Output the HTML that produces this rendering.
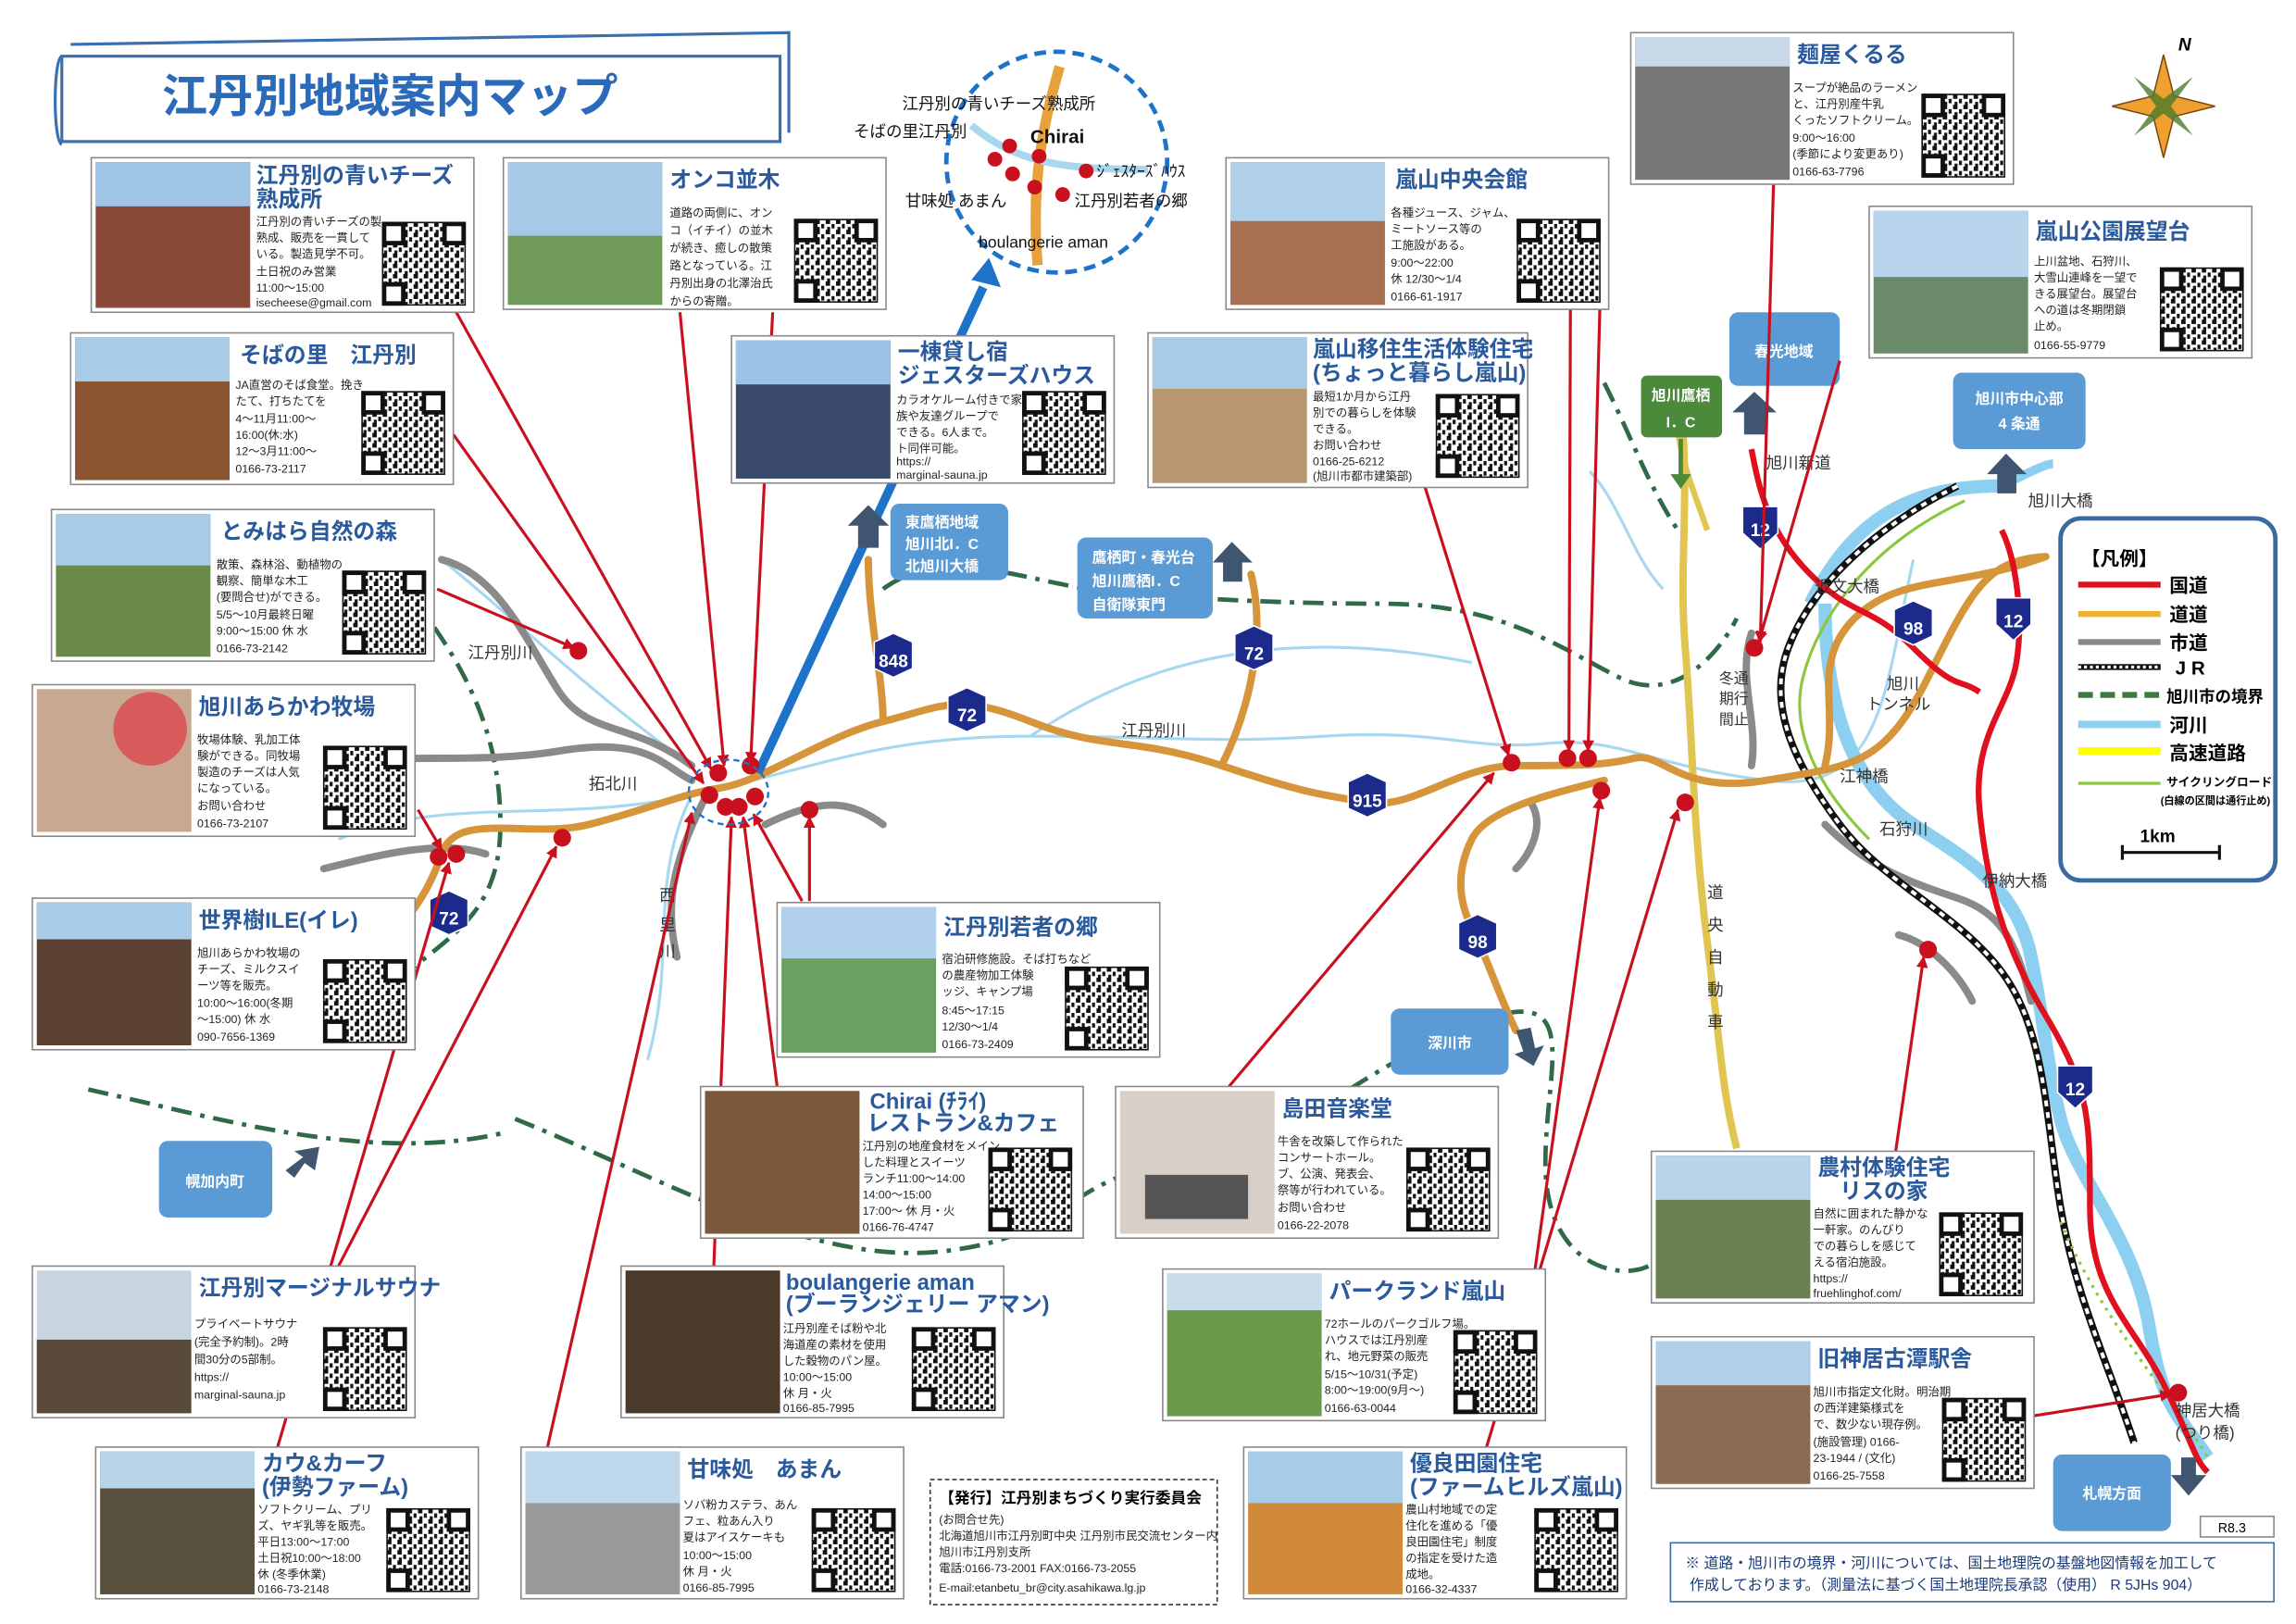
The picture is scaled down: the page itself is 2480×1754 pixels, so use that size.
<!DOCTYPE html>
<html><head><meta charset="utf-8"><style>
html,body{margin:0;padding:0;background:#fff}
svg{display:block}
text{font-family:"Liberation Sans","Noto Sans CJK JP",sans-serif}
.t{fill:#2a5a9c;font-weight:bold;font-size:15px}
.s{fill:#222;font-size:7.8px}
.rl{stroke:#c8101e;stroke-width:2;fill:none}
.rl line{marker-end:url(#ah)}
.bx{fill:#5b9bd5;}
.bt{fill:#fff;font-size:10px;font-weight:bold}
</style></head><body>
<svg width="2480" height="1754" viewBox="0 0 1560 1103" xmlns="http://www.w3.org/2000/svg">
<defs>
<pattern id="qr" width="7" height="7" patternUnits="userSpaceOnUse">
<rect width="7" height="7" fill="#fff"/><rect x="0" y="0" width="3" height="3" fill="#111"/><rect x="4" y="3" width="2" height="3" fill="#111"/><rect x="1" y="5" width="2" height="2" fill="#111"/>
</pattern>
<marker id="ah" viewBox="0 0 10 10" refX="9" refY="5" markerWidth="4" markerHeight="4" orient="auto"><path d="M0,0L10,5L0,10z" fill="#c8101e"/></marker>
<g id="q"><rect width="56" height="56" fill="url(#qr)" stroke="#111"/><rect x="1" y="1" width="13" height="13" fill="#fff" stroke="#111" stroke-width="3"/><rect x="42" y="1" width="13" height="13" fill="#fff" stroke="#111" stroke-width="3"/><rect x="1" y="42" width="13" height="13" fill="#fff" stroke="#111" stroke-width="3"/></g>
</defs>
<rect width="1560" height="1103" fill="#fff"/>

<!-- rivers -->
<g fill="none" stroke="#a8d8f0" stroke-width="2">
<path d="M230,570 C300,540 380,560 470,540 S600,500 700,500 S820,505 900,500 S1000,510 1050,505 S1120,520 1200,530 S1280,470 1300,380"/>
<path d="M470,540 C440,600 460,650 440,720"/>
<path d="M300,380 C350,420 400,470 470,520"/>
<path d="M700,500 C760,460 850,420 1000,450"/>
<path d="M1080,320 C1100,340 1110,380 1130,400"/>
</g>
<path d="M1230,410 C1260,350 1300,330 1360,330 M1240,410 C1240,500 1270,540 1300,560 S1370,600 1380,650 S1390,720 1400,760 S1450,840 1460,900 S1480,960 1500,990" fill="none" stroke="#8ccff0" stroke-width="9"/>
<path d="M1360,330 C1380,320 1390,315 1395,315" fill="none" stroke="#8ccff0" stroke-width="6"/>
<!-- boundary -->
<path d="M260,380 C300,430 340,480 340,560 S280,640 240,700 M600,400 C640,370 700,395 740,400 S860,410 940,410 S1060,440 1100,460 S1170,440 1180,420 M1090,260 C1110,300 1120,330 1140,360 M350,760 C450,800 550,860 640,850 S720,800 800,790 S900,740 990,700 S1050,720 1050,790 S1100,870 1120,860 M60,740 C150,760 250,790 340,770" fill="none" stroke="#2e6a45" stroke-width="3" stroke-dasharray="14,6,3,6"/>
<!-- expressway -->
<path d="M1140,260 C1150,330 1140,380 1145,440 S1150,560 1160,640 S1170,740 1180,780" fill="none" stroke="#e0c550" stroke-width="5"/>
<path d="M1140,260 C1135,300 1150,330 1160,360" fill="none" stroke="#e0c550" stroke-width="4"/>
<!-- gray roads -->
<g fill="none" stroke="#8a8a8a" stroke-width="5" stroke-linecap="round">
<path d="M230,520 C260,510 320,520 380,510 S450,520 470,530"/>
<path d="M220,590 C260,580 300,570 330,580"/>
<path d="M300,380 C340,390 360,440 380,470 S430,490 470,520"/>
<path d="M480,540 C460,580 450,610 460,650"/>
<path d="M520,560 C560,540 580,545 600,560"/>
<path d="M1040,545 C1050,560 1040,580 1030,590"/>
<path d="M1190,430 C1180,460 1195,490 1190,520"/>
<path d="M1240,560 C1270,590 1300,600 1330,610 S1370,640 1380,680"/>
<path d="M1290,635 C1310,640 1330,660 1340,680"/>
</g>
<!-- JR -->
<path d="M1330,330 C1270,360 1230,400 1215,440 S1220,520 1250,560 S1330,620 1360,660 S1390,760 1400,820 S1430,920 1450,980" fill="none" stroke="#111" stroke-width="5"/>
<path d="M1330,330 C1270,360 1230,400 1215,440 S1220,520 1250,560 S1330,620 1360,660 S1390,760 1400,820 S1430,920 1450,980" fill="none" stroke="#fff" stroke-width="2.5" stroke-dasharray="4,4"/>
<path d="M1335,340 C1270,370 1235,420 1225,460 S1240,540 1270,570" fill="none" stroke="#8dc63f" stroke-width="2"/>
<path d="M1400,830 C1430,900 1470,940 1500,990" fill="none" stroke="#8dc63f" stroke-width="2" stroke-dasharray="2,4"/>
<!-- orange roads -->
<g fill="none" stroke="#d6953b" stroke-width="5" stroke-linecap="round">
<path d="M230,660 C270,640 290,610 300,580 S360,570 400,560 S460,540 490,535 S560,500 600,490 S650,470 700,490 S770,500 830,520 S900,540 930,545 S990,520 1030,520 S1090,520 1110,515 S1140,540 1200,530 S1280,520 1310,460 S1350,380 1390,378"/>
<path d="M1090,530 C1050,540 1010,550 1000,570 S990,610 1000,630 S1020,680 1030,700"/>
<path d="M590,380 C590,420 600,460 600,490"/>
<path d="M850,390 C860,430 850,480 830,520"/>
<path d="M1240,520 C1250,480 1230,450 1260,420 S1330,400 1390,378"/>
</g>
<!-- red national road -->
<g fill="none" stroke="#e0101e" stroke-width="4">
<path d="M1190,305 C1195,330 1200,360 1230,390 S1270,410 1300,440 S1330,460 1345,470"/>
<path d="M1360,360 C1370,380 1375,420 1370,450 S1340,500 1345,550 S1360,640 1390,690 S1420,760 1420,820 S1450,900 1470,940 S1490,990 1500,1000"/>
</g>
<!-- blue route line to inset -->
<path d="M515,525 L668,195" stroke="#1d72c9" stroke-width="6"/>
<path d="M660,190 L680,195 L672,175z" fill="#1d72c9"/>

<!-- route shields -->
<g font-size="12" font-weight="bold" fill="#fff" text-anchor="middle">
<g transform="translate(607,445)"><path d="M-13,-9 L0,-15 L13,-9 L13,9 L0,15 L-13,9z" fill="#1c2a8c" stroke="#fff"/><text y="8">848</text></g>
<g transform="translate(657,482)"><path d="M-13,-9 L0,-15 L13,-9 L13,9 L0,15 L-13,9z" fill="#1c2a8c" stroke="#fff"/><text y="8">72</text></g>
<g transform="translate(852,440)"><path d="M-13,-9 L0,-15 L13,-9 L13,9 L0,15 L-13,9z" fill="#1c2a8c" stroke="#fff"/><text y="8">72</text></g>
<g transform="translate(929,540)"><path d="M-13,-9 L0,-15 L13,-9 L13,9 L0,15 L-13,9z" fill="#1c2a8c" stroke="#fff"/><text y="8">915</text></g>
<g transform="translate(305,620)"><path d="M-13,-9 L0,-15 L13,-9 L13,9 L0,15 L-13,9z" fill="#1c2a8c" stroke="#fff"/><text y="8">72</text></g>
<g transform="translate(1004,636)"><path d="M-13,-9 L0,-15 L13,-9 L13,9 L0,15 L-13,9z" fill="#1c2a8c" stroke="#fff"/><text y="8">98</text></g>
<g transform="translate(1300,423)"><path d="M-13,-9 L0,-15 L13,-9 L13,9 L0,15 L-13,9z" fill="#1c2a8c" stroke="#fff"/><text y="8">98</text></g>
<g transform="translate(1196,358)"><path d="M-12,-14 L12,-14 L12,4 L0,15 L-12,4z" fill="#1c2a8c" stroke="#fff"/><text y="6">12</text></g>
<g transform="translate(1368,420)"><path d="M-12,-14 L12,-14 L12,4 L0,15 L-12,4z" fill="#1c2a8c" stroke="#fff"/><text y="6">12</text></g>
<g transform="translate(1410,738)"><path d="M-12,-14 L12,-14 L12,4 L0,15 L-12,4z" fill="#1c2a8c" stroke="#fff"/><text y="6">12</text></g>
</g>

<!-- map labels -->
<g font-size="11" fill="#333">
<text x="318" y="447">江丹別川</text><text x="400" y="536">拓北川</text><text x="762" y="500">江丹別川</text>
<text x="448" y="612">西</text><text x="448" y="632">里</text><text x="448" y="650">川</text>
<text x="1200" y="318">旭川新道</text><text x="1378" y="344">旭川大橋</text><text x="1233" y="402">近文大橋</text>
<text x="1282" y="468">旭川</text><text x="1268" y="482">トンネル</text><text x="1250" y="531">江神橋</text><text x="1277" y="567">石狩川</text><text x="1347" y="602">伊納大橋</text>
<text x="1168" y="464" font-size="10">冬通</text><text x="1168" y="478" font-size="10">期行</text><text x="1168" y="492" font-size="10">間止</text>
<text x="1160" y="610">道</text><text x="1160" y="632">央</text><text x="1160" y="654">自</text><text x="1160" y="676">動</text><text x="1160" y="698">車</text>
<text x="1478" y="962">神居大橋</text><text x="1478" y="977">(つり橋)</text>
</g>

<!-- direction boxes -->
<g>
<rect x="1175" y="212" width="75" height="50" rx="6" class="bx"/><text x="1212" y="242" class="bt" text-anchor="middle">春光地域</text>
<path d="M1185,295 L1200,295 L1200,280 L1207,280 L1192,266 L1177,280 L1185,280z" fill="#3f5570"/>
<rect x="1115" y="255" width="55" height="42" rx="4" fill="#4a8a3a"/><text x="1142" y="272" class="bt" text-anchor="middle">旭川鷹栖</text><text x="1142" y="290" class="bt" text-anchor="middle">I．C</text>
<path d="M1142,298 L1142,325" stroke="#4a8a3a" stroke-width="3"/><path d="M1135,322 L1149,322 L1142,332z" fill="#4a8a3a"/>
<rect x="1327" y="253" width="90" height="52" rx="6" class="bx"/><text x="1372" y="274" class="bt" text-anchor="middle">旭川市中心部</text><text x="1372" y="291" class="bt" text-anchor="middle">4 条通</text>
<path d="M1357,335 L1370,335 L1370,322 L1377,322 L1363,308 L1350,322 L1357,322z" fill="#3f5570"/>
<rect x="605" y="342" width="80" height="52" rx="6" class="bx"/><text x="615" y="358" class="bt">東鷹栖地域</text><text x="615" y="373" class="bt">旭川北I．C</text><text x="615" y="388" class="bt">北旭川大橋</text>
<path d="M583,372 L597,372 L597,357 L604,357 L590,343 L576,357 L583,357z" fill="#3f5570"/>
<rect x="732" y="365" width="92" height="55" rx="6" class="bx"/><text x="742" y="382" class="bt">鷹栖町・春光台</text><text x="742" y="398" class="bt">旭川鷹栖I．C</text><text x="742" y="414" class="bt">自衛隊東門</text>
<path d="M831,395 L844,395 L844,382 L851,382 L837,368 L824,382 L831,382z" fill="#3f5570"/>
<rect x="945" y="685" width="80" height="45" rx="6" class="bx"/><text x="985" y="712" class="bt" text-anchor="middle">深川市</text>
<path d="M1030,700 L1040,698 L1043,712 L1049,710 L1042,724 L1029,716 L1035,714z" fill="#3f5570"/>
<rect x="108" y="775" width="77" height="52" rx="6" class="bx"/><text x="146" y="806" class="bt" text-anchor="middle">幌加内町</text>
<path d="M200,800 L207,790 L214,795 L217,779 L200,782 L206,786 L194,795z" fill="#3f5570"/>
<rect x="1395" y="988" width="80" height="52" rx="6" class="bx"/><text x="1435" y="1018" class="bt" text-anchor="middle">札幌方面</text>
<path d="M1482,990 L1492,990 L1492,1002 L1499,1002 L1487,1016 L1475,1002 L1482,1002z" fill="#3f5570"/>
</g>

<!-- red connector lines -->
<g class="rl">
<line x1="310" y1="212" x2="483" y2="522"/><line x1="462" y1="212" x2="492" y2="520"/><line x1="525" y1="212" x2="510" y2="518"/>
<line x1="308" y1="295" x2="478" y2="532"/><line x1="297" y1="400" x2="390" y2="440"/><line x1="284" y1="550" x2="300" y2="577"/>
<line x1="230" y1="860" x2="378" y2="575"/><line x1="188" y1="985" x2="305" y2="586"/><line x1="372" y1="983" x2="470" y2="552"/>
<line x1="485" y1="860" x2="497" y2="555"/><line x1="528" y1="738" x2="505" y2="555"/><line x1="545" y1="612" x2="512" y2="553"/><line x1="550" y1="612" x2="550" y2="555"/>
<line x1="835" y1="738" x2="1015" y2="525"/><line x1="1043" y1="862" x2="1087" y2="542"/><line x1="1010" y1="983" x2="1140" y2="550"/>
<line x1="968" y1="330" x2="1025" y2="513"/><line x1="1067" y1="210" x2="1066" y2="510"/><line x1="1087" y1="210" x2="1079" y2="510"/>
<line x1="1288" y1="782" x2="1307" y2="650"/><line x1="1380" y1="962" x2="1475" y2="947"/><line x1="1250" y1="245" x2="1195" y2="436"/><line x1="1205" y1="125" x2="1196" y2="436"/>
</g>
<!-- red dots -->
<g fill="#c8101e">
<circle cx="393" cy="442" r="6"/><circle cx="298" cy="582" r="6"/><circle cx="310" cy="580" r="6"/><circle cx="382" cy="569" r="6"/>
<circle cx="488" cy="525" r="6"/><circle cx="510" cy="520" r="6"/><circle cx="482" cy="540" r="6"/><circle cx="493" cy="548" r="6"/><circle cx="502" cy="548" r="6"/><circle cx="513" cy="541" r="6"/><circle cx="550" cy="550" r="6"/>
<circle cx="1027" cy="518" r="6"/><circle cx="1065" cy="515" r="6"/><circle cx="1079" cy="515" r="6"/><circle cx="1088" cy="537" r="6"/><circle cx="1145" cy="545" r="6"/>
<circle cx="1192" cy="440" r="6"/><circle cx="1310" cy="645" r="6"/><circle cx="1480" cy="946" r="6"/>
</g>
<ellipse cx="495" cy="538" rx="27" ry="22" fill="none" stroke="#1d72c9" stroke-width="1.5" stroke-dasharray="4,3"/>

<!-- inset circle -->
<circle cx="718" cy="110" r="75" fill="#fff" stroke="#1d72c9" stroke-width="3" stroke-dasharray="8,5"/>
<path d="M720,45 C710,80 700,120 705,180" stroke="#e9a23b" stroke-width="7" fill="none"/>
<path d="M660,85 C690,110 720,115 780,115" stroke="#a8d8f0" stroke-width="5" fill="none"/>
<g fill="#c8101e"><circle cx="676" cy="108" r="5"/><circle cx="686" cy="99" r="5"/><circle cx="688" cy="118" r="5"/><circle cx="703" cy="127" r="5"/><circle cx="722" cy="132" r="5"/><circle cx="738" cy="116" r="5"/><circle cx="706" cy="106" r="5"/></g>
<g font-size="11" fill="#111"><text x="613" y="74">江丹別の青いチーズ熟成所</text><text x="580" y="93">そばの里江丹別</text><text x="700" y="97" font-weight="bold" font-size="13">Chirai</text><text x="745" y="120">ｼﾞｪｽﾀｰｽﾞﾊｳｽ</text><text x="730" y="140">江丹別若者の郷</text><text x="615" y="140">甘味処 あまん</text><text x="665" y="168">boulangerie aman</text></g>

<!-- title banner -->
<path d="M42,38 L530,38 L530,96 L42,96z" fill="#fff" stroke="#3b6fb0" stroke-width="2"/>
<path d="M48,30 L536,22 L536,90" fill="none" stroke="#3b6fb0" stroke-width="2"/>
<path d="M42,38 C36,40 36,96 42,98" fill="none" stroke="#3b6fb0" stroke-width="2"/>
<text x="110" y="76" font-size="31" fill="#2a6ab8" font-weight="bold">江丹別地域案内マップ</text>

<!-- compass -->
<g transform="translate(1470,72)"><path d="M0,-35 L7,-7 L35,0 L7,7 L0,35 L-7,7 L-35,0 L-7,-7z" fill="#f0a030" stroke="#7a4a10"/><path d="M-20,-20 L0,-5 L20,-20 L5,0 L20,20 L0,5 L-20,20 L-5,0z" fill="#4a7a2a" opacity=".8"/><text x="10" y="-38" font-size="12" font-style="italic" font-weight="bold">N</text></g>

<!-- cards -->
<g>
<g transform="translate(62,107)"><rect width="260" height="105" fill="#fff" stroke="#888"/><rect x="3" y="3" width="105" height="99" fill="#8a4a3a"/><rect x="3" y="3" width="105" height="30" fill="#9ec4e6"/><text x="112" y="17" class="t">江丹別の青いチーズ</text><text x="112" y="33" class="t">熟成所</text><text x="112" y="46" class="s">江丹別の青いチーズの製</text><text x="112" y="57" class="s">熟成、販売を一貫して</text><text x="112" y="68" class="s">いる。製造見学不可。</text><text x="112" y="80" class="s">土日祝のみ営業</text><text x="112" y="91" class="s">11:00～15:00</text><text x="112" y="101" class="s">isecheese@gmail.com</text><use href="#q" x="198" y="44"/></g>
<g transform="translate(342,107)"><rect width="260" height="103" fill="#fff" stroke="#888"/><rect x="3" y="3" width="105" height="97" fill="#6f9a5a"/><rect x="3" y="3" width="105" height="50" fill="#a8c8e8"/><text x="113" y="20" class="t">オンコ並木</text><text x="113" y="40" class="s">道路の両側に、オン</text><text x="113" y="52" class="s">コ（イチイ）の並木</text><text x="113" y="64" class="s">が続き、癒しの散策</text><text x="113" y="76" class="s">路となっている。江</text><text x="113" y="88" class="s">丹別出身の北澤治氏</text><text x="113" y="100" class="s">からの寄贈。</text><use href="#q" x="198" y="42"/></g>
<g transform="translate(48,226)"><rect width="260" height="103" fill="#fff" stroke="#888"/><rect x="3" y="3" width="105" height="97" fill="#8a5530"/><rect x="3" y="3" width="105" height="30" fill="#a8cce8"/><text x="115" y="20" class="t">そばの里　江丹別</text><text x="112" y="38" class="s">JA直営のそば食堂。挽き</text><text x="112" y="49" class="s">たて、打ちたてを</text><text x="112" y="61" class="s">4～11月11:00～</text><text x="112" y="72" class="s">16:00(休:水)</text><text x="112" y="83" class="s">12～3月11:00～</text><text x="112" y="95" class="s">0166-73-2117</text><use href="#q" x="198" y="40"/></g>
<g transform="translate(35,346)"><rect width="260" height="103" fill="#fff" stroke="#888"/><rect x="3" y="3" width="105" height="97" fill="#6a8a4a"/><rect x="3" y="3" width="105" height="35" fill="#a8cce8"/><text x="115" y="20" class="t">とみはら自然の森</text><text x="112" y="40" class="s">散策、森林浴、動植物の</text><text x="112" y="51" class="s">観察、簡単な木工</text><text x="112" y="62" class="s">(要問合せ)ができる。</text><text x="112" y="74" class="s">5/5～10月最終日曜</text><text x="112" y="85" class="s">9:00～15:00 休 水</text><text x="112" y="97" class="s">0166-73-2142</text><use href="#q" x="198" y="42"/></g>
<g transform="translate(22,465)"><rect width="260" height="103" fill="#fff" stroke="#888"/><rect x="3" y="3" width="105" height="97" fill="#c8a890"/><circle cx="80" cy="30" r="25" fill="#d85a5a"/><text x="113" y="20" class="t">旭川あらかわ牧場</text><text x="112" y="40" class="s">牧場体験、乳加工体</text><text x="112" y="51" class="s">験ができる。同牧場</text><text x="112" y="62" class="s">製造のチーズは人気</text><text x="112" y="73" class="s">になっている。</text><text x="112" y="85" class="s">お問い合わせ</text><text x="112" y="97" class="s">0166-73-2107</text><use href="#q" x="198" y="42"/></g>
<g transform="translate(22,610)"><rect width="260" height="103" fill="#fff" stroke="#888"/><rect x="3" y="3" width="105" height="97" fill="#5a4030"/><rect x="3" y="3" width="105" height="25" fill="#a8cce8"/><text x="113" y="20" class="t">世界樹ILE(イレ)</text><text x="112" y="40" class="s">旭川あらかわ牧場の</text><text x="112" y="51" class="s">チーズ、ミルクスイ</text><text x="112" y="62" class="s">ーツ等を販売。</text><text x="112" y="74" class="s">10:00～16:00(冬期</text><text x="112" y="85" class="s">～15:00) 休 水</text><text x="112" y="97" class="s">090-7656-1369</text><use href="#q" x="198" y="42"/></g>
<g transform="translate(497,228)"><rect width="260" height="100" fill="#fff" stroke="#888"/><rect x="3" y="3" width="105" height="94" fill="#3a4a6a"/><rect x="3" y="3" width="105" height="30" fill="#9cc4ea"/><text x="113" y="16" class="t">一棟貸し宿</text><text x="113" y="32" class="t">ジェスターズハウス</text><text x="112" y="46" class="s">カラオケルーム付きで家</text><text x="112" y="57" class="s">族や友達グループで</text><text x="112" y="68" class="s">できる。6人まで。</text><text x="112" y="79" class="s">ト同伴可能。</text><text x="112" y="88" class="s">https://</text><text x="112" y="97" class="s">marginal-sauna.jp</text><use href="#q" x="198" y="38"/></g>
<g transform="translate(833,107)"><rect width="260" height="103" fill="#fff" stroke="#888"/><rect x="3" y="3" width="105" height="97" fill="#a87050"/><rect x="3" y="3" width="105" height="40" fill="#b0d0ea"/><text x="115" y="20" class="t">嵐山中央会館</text><text x="112" y="40" class="s">各種ジュース、ジャム、</text><text x="112" y="51" class="s">ミートソース等の</text><text x="112" y="62" class="s">工施設がある。</text><text x="112" y="74" class="s">9:00～22:00</text><text x="112" y="85" class="s">休 12/30～1/4</text><text x="112" y="97" class="s">0166-61-1917</text><use href="#q" x="198" y="42"/></g>
<g transform="translate(780,226)"><rect width="258" height="105" fill="#fff" stroke="#888"/><rect x="3" y="3" width="105" height="99" fill="#b89870"/><rect x="3" y="3" width="105" height="35" fill="#a8cce8"/><text x="112" y="16" class="t">嵐山移住生活体験住宅</text><text x="112" y="32" class="t">(ちょっと暮らし嵐山)</text><text x="112" y="46" class="s">最短1か月から江丹</text><text x="112" y="57" class="s">別での暮らしを体験</text><text x="112" y="68" class="s">できる。</text><text x="112" y="79" class="s">お問い合わせ</text><text x="112" y="90" class="s">0166-25-6212</text><text x="112" y="100" class="s" font-size="6.5">(旭川市都市建築部)</text><use href="#q" x="196" y="42"/></g>
<g transform="translate(1108,22)"><rect width="260" height="103" fill="#fff" stroke="#888"/><rect x="3" y="3" width="105" height="97" fill="#777"/><rect x="3" y="3" width="105" height="20" fill="#c8d8e8"/><text x="113" y="20" class="t">麺屋くるる</text><text x="110" y="40" class="s">スープが絶品のラーメン</text><text x="110" y="51" class="s">と、江丹別産牛乳</text><text x="110" y="62" class="s">くったソフトクリーム。</text><text x="110" y="74" class="s">9:00～16:00</text><text x="110" y="85" class="s">(季節により変更あり)</text><text x="110" y="97" class="s">0166-63-7796</text><use href="#q" x="198" y="42"/></g>
<g transform="translate(1270,140)"><rect width="260" height="103" fill="#fff" stroke="#888"/><rect x="3" y="3" width="105" height="97" fill="#6a8a6a"/><rect x="3" y="3" width="105" height="45" fill="#b8d4ec"/><text x="113" y="22" class="t">嵐山公園展望台</text><text x="112" y="40" class="s">上川盆地、石狩川、</text><text x="112" y="51" class="s">大雪山連峰を一望で</text><text x="112" y="62" class="s">きる展望台。展望台</text><text x="112" y="73" class="s">への道は冬期閉鎖</text><text x="112" y="84" class="s">止め。</text><text x="112" y="97" class="s">0166-55-9779</text><use href="#q" x="198" y="42"/></g>
<g transform="translate(528,613)"><rect width="260" height="105" fill="#fff" stroke="#888"/><rect x="3" y="3" width="105" height="99" fill="#6aa060"/><rect x="3" y="3" width="105" height="35" fill="#b0d0ec"/><text x="113" y="22" class="t">江丹別若者の郷</text><text x="112" y="41" class="s">宿泊研修施設。そば打ちなど</text><text x="112" y="52" class="s">の農産物加工体験</text><text x="112" y="63" class="s">ッジ、キャンプ場</text><text x="112" y="76" class="s">8:45～17:15</text><text x="112" y="87" class="s">12/30～1/4</text><text x="112" y="99" class="s">0166-73-2409</text><use href="#q" x="196" y="44"/></g>
<g transform="translate(476,738)"><rect width="260" height="103" fill="#fff" stroke="#888"/><rect x="3" y="3" width="105" height="97" fill="#7a5a3a"/><text x="115" y="15" class="t" font-size="14">Chirai (ﾁﾗｲ)</text><text x="113" y="30" class="t" font-size="14">レストラン&amp;カフェ</text><text x="110" y="43" class="s">江丹別の地産食材をメイン</text><text x="110" y="54" class="s">した料理とスイーツ</text><text x="110" y="65" class="s">ランチ11:00～14:00</text><text x="110" y="76" class="s">14:00～15:00</text><text x="110" y="87" class="s">17:00～ 休 月・火</text><text x="110" y="98" class="s">0166-76-4747</text><use href="#q" x="196" y="42"/></g>
<g transform="translate(758,738)"><rect width="260" height="103" fill="#fff" stroke="#888"/><rect x="3" y="3" width="105" height="97" fill="#d8d0c8"/><rect x="20" y="60" width="70" height="30" fill="#555"/><text x="113" y="20" class="t">島田音楽堂</text><text x="110" y="40" class="s">牛舎を改築して作られた</text><text x="110" y="51" class="s">コンサートホール。</text><text x="110" y="62" class="s">ブ、公演、発表会、</text><text x="110" y="73" class="s">祭等が行われている。</text><text x="110" y="85" class="s">お問い合わせ</text><text x="110" y="97" class="s">0166-22-2078</text><use href="#q" x="198" y="42"/></g>
<g transform="translate(1122,782)"><rect width="260" height="103" fill="#fff" stroke="#888"/><rect x="3" y="3" width="105" height="97" fill="#6a8050"/><rect x="3" y="3" width="105" height="30" fill="#b8d4ea"/><text x="113" y="16" class="t">農村体験住宅</text><text x="128" y="32" class="t">リスの家</text><text x="110" y="45" class="s">自然に囲まれた静かな</text><text x="110" y="56" class="s">一軒家。のんびり</text><text x="110" y="67" class="s">での暮らしを感じて</text><text x="110" y="78" class="s">える宿泊施設。</text><text x="110" y="89" class="s">https://</text><text x="110" y="99" class="s">fruehlinghof.com/</text><use href="#q" x="196" y="42"/></g>
<g transform="translate(790,862)"><rect width="260" height="103" fill="#fff" stroke="#888"/><rect x="3" y="3" width="105" height="97" fill="#6a9a4a"/><rect x="3" y="3" width="105" height="25" fill="#c8dcec"/><text x="113" y="20" class="t">パークランド嵐山</text><text x="110" y="40" class="s">72ホールのパークゴルフ場。</text><text x="110" y="51" class="s">ハウスでは江丹別産</text><text x="110" y="62" class="s">れ、地元野菜の販売</text><text x="110" y="74" class="s">5/15～10/31(予定)</text><text x="110" y="85" class="s">8:00～19:00(9月～)</text><text x="110" y="97" class="s">0166-63-0044</text><use href="#q" x="198" y="42"/></g>
<g transform="translate(422,860)"><rect width="260" height="103" fill="#fff" stroke="#888"/><rect x="3" y="3" width="105" height="97" fill="#4a3a2a"/><text x="112" y="16" class="t" font-size="14">boulangerie aman</text><text x="112" y="31" class="t" font-size="13">(ブーランジェリー アマン)</text><text x="110" y="45" class="s">江丹別産そば粉や北</text><text x="110" y="56" class="s">海道産の素材を使用</text><text x="110" y="67" class="s">した穀物のパン屋。</text><text x="110" y="78" class="s">10:00～15:00</text><text x="110" y="89" class="s">休 月・火</text><text x="110" y="99" class="s">0166-85-7995</text><use href="#q" x="198" y="42"/></g>
<g transform="translate(22,860)"><rect width="260" height="103" fill="#fff" stroke="#888"/><rect x="3" y="3" width="105" height="97" fill="#c8d4e0"/><rect x="3" y="50" width="105" height="50" fill="#5a4a3a"/><text x="113" y="20" class="t">江丹別マージナルサウナ</text><text x="110" y="42" class="s">プライベートサウナ</text><text x="110" y="54" class="s">(完全予約制)。2時</text><text x="110" y="66" class="s">間30分の5部制。</text><text x="110" y="78" class="s">https://</text><text x="110" y="90" class="s">marginal-sauna.jp</text><use href="#q" x="198" y="42"/></g>
<g transform="translate(1122,908)"><rect width="260" height="103" fill="#fff" stroke="#888"/><rect x="3" y="3" width="105" height="97" fill="#8a6a50"/><rect x="3" y="3" width="105" height="30" fill="#b0d0ea"/><text x="113" y="20" class="t">旧神居古潭駅舎</text><text x="110" y="40" class="s">旭川市指定文化財。明治期</text><text x="110" y="51" class="s">の西洋建築様式を</text><text x="110" y="62" class="s">で、数少ない現存例。</text><text x="110" y="74" class="s">(施設管理) 0166-</text><text x="110" y="85" class="s">23-1944 / (文化)</text><text x="110" y="97" class="s">0166-25-7558</text><use href="#q" x="198" y="42"/></g>
<g transform="translate(65,983)"><rect width="260" height="103" fill="#fff" stroke="#888"/><rect x="3" y="3" width="105" height="97" fill="#5a5040"/><rect x="3" y="3" width="105" height="25" fill="#b8d4ea"/><text x="113" y="16" class="t">カウ&amp;カーフ</text><text x="113" y="32" class="t">(伊勢ファーム)</text><text x="110" y="45" class="s">ソフトクリーム、プリ</text><text x="110" y="56" class="s">ズ、ヤギ乳等を販売。</text><text x="110" y="67" class="s">平日13:00～17:00</text><text x="110" y="78" class="s">土日祝10:00～18:00</text><text x="110" y="89" class="s">休 (冬季休業)</text><text x="110" y="99" class="s">0166-73-2148</text><use href="#q" x="198" y="42"/></g>
<g transform="translate(354,983)"><rect width="260" height="103" fill="#fff" stroke="#888"/><rect x="3" y="3" width="105" height="97" fill="#9a9a9a"/><rect x="3" y="3" width="105" height="35" fill="#c0d8ec"/><text x="113" y="20" class="t">甘味処　あまん</text><text x="110" y="42" class="s">ソバ粉カステラ、あん</text><text x="110" y="53" class="s">フェ、粒あん入り</text><text x="110" y="64" class="s">夏はアイスケーキも</text><text x="110" y="76" class="s">10:00～15:00</text><text x="110" y="87" class="s">休 月・火</text><text x="110" y="98" class="s">0166-85-7995</text><use href="#q" x="198" y="42"/></g>
<g transform="translate(845,983)"><rect width="260" height="103" fill="#fff" stroke="#888"/><rect x="3" y="3" width="105" height="97" fill="#d08a3a"/><rect x="3" y="3" width="105" height="35" fill="#a8cce8"/><text x="113" y="16" class="t">優良田園住宅</text><text x="113" y="32" class="t">(ファームヒルズ嵐山)</text><text x="110" y="45" class="s">農山村地域での定</text><text x="110" y="56" class="s">住化を進める「優</text><text x="110" y="67" class="s">良田園住宅」制度</text><text x="110" y="78" class="s">の指定を受けた造</text><text x="110" y="89" class="s">成地。</text><text x="110" y="99" class="s">0166-32-4337</text><use href="#q" x="198" y="42"/></g>
<g transform="translate(632,1005)"><rect width="195" height="85" fill="#fff" stroke="#333" stroke-dasharray="3,2"/><text x="6" y="16" font-size="10.5" font-weight="bold">【発行】江丹別まちづくり実行委員会</text><text x="6" y="30" class="s">(お問合せ先)</text><text x="6" y="41" class="s" font-size="7">北海道旭川市江丹別町中央 江丹別市民交流センター内</text><text x="6" y="52" class="s">旭川市江丹別支所</text><text x="6" y="63" class="s">電話:0166-73-2001 FAX:0166-73-2055</text><text x="6" y="76" class="s">E-mail:etanbetu_br@city.asahikawa.lg.jp</text></g>
</g>

<!-- legend -->
<g transform="translate(1400,352)">
<rect width="146" height="246" rx="14" fill="#fff" stroke="#3a6aa0" stroke-width="3"/>
<text x="14" y="32" font-size="13" font-weight="bold">【凡例】</text>
<g font-size="13" font-weight="bold"><line x1="12" y1="45" x2="68" y2="45" stroke="#e0101e" stroke-width="4"/><text x="74" y="50">国道</text>
<line x1="12" y1="65" x2="68" y2="65" stroke="#f0b030" stroke-width="4"/><text x="74" y="70">道道</text>
<line x1="12" y1="84" x2="68" y2="84" stroke="#888" stroke-width="4"/><text x="74" y="89">市道</text>
<line x1="12" y1="101" x2="68" y2="101" stroke="#111" stroke-width="4"/><line x1="12" y1="101" x2="68" y2="101" stroke="#fff" stroke-width="2" stroke-dasharray="2,2"/><text x="78" y="106">J R</text>
<line x1="12" y1="120" x2="68" y2="120" stroke="#3a7a40" stroke-width="4" stroke-dasharray="10,5"/><text x="72" y="125" font-size="11">旭川市の境界</text>
<line x1="12" y1="140" x2="68" y2="140" stroke="#8ccff0" stroke-width="5"/><text x="74" y="145">河川</text>
<line x1="12" y1="158" x2="68" y2="158" stroke="#ffff00" stroke-width="5"/><text x="74" y="164">高速道路</text>
<line x1="12" y1="180" x2="68" y2="180" stroke="#8dc63f" stroke-width="2"/><text x="72" y="182" font-size="8">サイクリングロード</text><text x="68" y="194" font-size="7">(白線の区間は通行止め)</text>
<text x="54" y="220" font-size="12">1km</text><path d="M42,222 L42,232 M42,227 L108,227 M108,222 L108,232" stroke="#111" stroke-width="2"/></g>
</g>

<rect x="1495" y="1030" width="50" height="14" fill="#fff" stroke="#888"/><text x="1507" y="1041" font-size="9">R8.3</text>
<rect x="1135" y="1048" width="410" height="40" fill="#fff" stroke="#3a6aa0"/>
<text x="1145" y="1065" font-size="10" fill="#1a3a7a">※ 道路・旭川市の境界・河川については、国土地理院の基盤地図情報を加工して</text>
<text x="1148" y="1080" font-size="10" fill="#1a3a7a">作成しております。（測量法に基づく国土地理院長承認（使用） R 5JHs 904）</text>
</svg>
</body></html>
